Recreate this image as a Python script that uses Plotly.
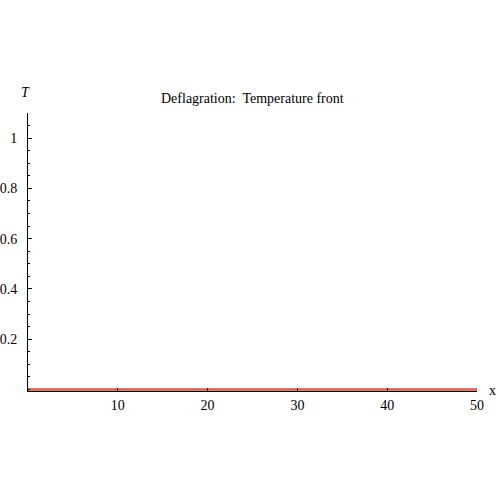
import plotly.graph_objects as go

# Data: temperature is ~0 across the whole domain
x_vals = [0, 5, 10, 15, 20, 25, 30, 35, 40, 45, 50]
T_vals = [0, 0, 0, 0, 0, 0, 0, 0, 0, 0, 0]

x_ticks = [10, 20, 30, 40, 50]
x_tick_labels = ["10", "20", "30", "40", "50"]
y_ticks = [0.2, 0.4, 0.6, 0.8, 1.0]
y_tick_labels = ["0.2", "0.4", "0.6", "0.8", "1"]

title_text = "Deflagration:  Temperature front"

font_family = "Liberation Serif, Times New Roman, serif"
fs = 14

fig = go.Figure()
fig.add_trace(go.Scatter(
    x=x_vals, y=T_vals, mode="lines",
    line=dict(color="#E0583C", width=2.5),
    showlegend=False, hoverinfo="skip",
))

fig.update_layout(
    width=500, height=500,
    margin=dict(l=28, r=23, t=113, b=109, autoexpand=False),
    paper_bgcolor="white", plot_bgcolor="white",
    font=dict(family=font_family, size=fs, color="black"),
    xaxis=dict(
        range=[0, 50], showgrid=False, zeroline=False, automargin=False,
        showline=True, linecolor="black", linewidth=1,
        tickmode="array", tickvals=x_ticks, ticktext=x_tick_labels,
        ticks="inside", ticklen=3, tickcolor="black", tickwidth=1,
        tickfont=dict(family=font_family, size=fs),
        ticklabelstandoff=1,
        fixedrange=True,
    ),
    yaxis=dict(
        range=[-0.006, 1.1], showgrid=False, zeroline=False, automargin=False,
        showline=True, linecolor="black", linewidth=1,
        tickmode="array", tickvals=y_ticks, ticktext=y_tick_labels,
        ticks="inside", ticklen=4, tickcolor="black", tickwidth=1,
        tickfont=dict(family=font_family, size=fs),
        ticklabelstandoff=7,
        minor=dict(tickmode="linear", tick0=0, dtick=0.05, ticks="inside",
                   ticklen=2, tickcolor="black", showgrid=False),
        fixedrange=True,
    ),
    annotations=[
        dict(text=title_text, xref="paper", yref="paper", x=0.5, y=1.0,
             yshift=15, xanchor="center", yanchor="middle", showarrow=False,
             font=dict(family=font_family, size=fs)),
        dict(text="<i>T</i>", xref="paper", yref="paper", x=0, y=1.0,
             xshift=-3, yshift=21, xanchor="center", yanchor="middle",
             showarrow=False, font=dict(family=font_family, size=fs)),
        dict(text="x", xref="paper", yref="paper", x=1.0, y=0,
             xshift=15, yshift=1, xanchor="center", yanchor="middle",
             showarrow=False, font=dict(family=font_family, size=fs)),
    ],
)

fig.write_html("out.html",
               config={"displayModeBar": False},
               post_script="document.body.style.margin='0';")
